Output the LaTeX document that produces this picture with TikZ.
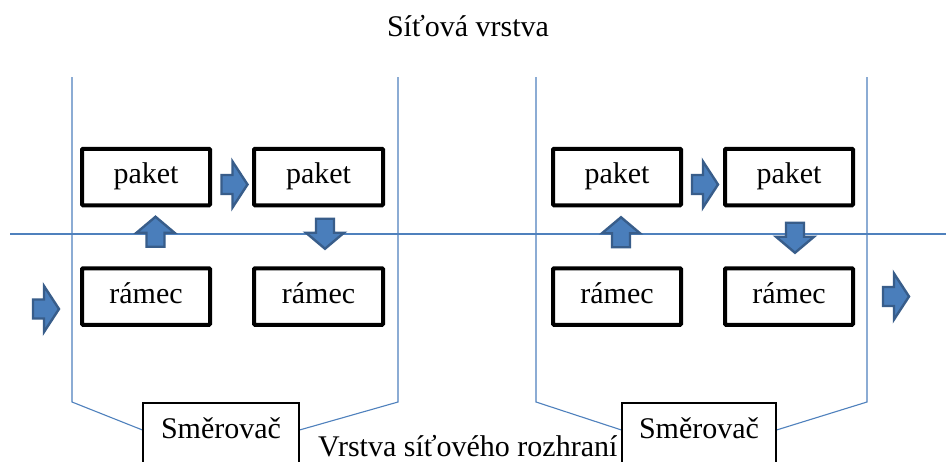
\documentclass[tikz,border=0pt]{standalone}
\usepackage{fontspec}
\setmainfont{Liberation Serif}
\usetikzlibrary{calc}
\definecolor{lineblue}{RGB}{79,129,189}
\definecolor{arrowfill}{RGB}{74,126,187}
\definecolor{arrowedge}{RGB}{56,93,138}
\pgfdeclarelayer{background}
\pgfsetlayers{background,main}
\tikzset{
  blk/.style={fill=arrowfill, draw=arrowedge, line width=2.4pt, line join=miter},
  frameline/.style={draw=lineblue, line width=1.1pt},
  layerbox/.style={draw=black, line width=4pt, rounded corners=1pt, fill=white,
    minimum width=128pt, minimum height=56.5pt, inner sep=0pt,
    text height=19.5pt, text depth=6pt, font=\fontsize{30}{35}\selectfont},
  routerbox/.style={draw=black, line width=1.1pt, fill=white,
    minimum width=156pt, minimum height=64pt, inner sep=0pt,
    text height=19.5pt, text depth=13pt, font=\fontsize{30}{35}\selectfont},
  textlabel/.style={inner sep=0pt, font=\fontsize{30}{35}\selectfont},
  harrow/.pic={\path[blk] (-13,-9.5) -- (-2,-9.5) -- (-2,-23) -- (13,0) -- (-2,23) -- (-2,9.5) -- (-13,9.5) -- cycle;},
  varrow/.pic={\path[blk] (-15,-9) -- (-1,-9) -- (-1,-19) -- (15,0) -- (-1,19) -- (-1,9) -- (-15,9) -- cycle;}
}
\begin{document}
\begin{tikzpicture}[x=1pt,y=-1pt]
\clip (0,0) rectangle (946,461);
\begin{pgfonlayer}{background}
\fill[white] (0,0) rectangle (946,461);
\end{pgfonlayer}

% titles
\node[textlabel, anchor=base] (title) at (468,36) {Síťová vrstva};
\node[textlabel, anchor=base west, text depth=0pt] (bottom) at (318,456) {Vrstva síťového rozhraní};

% boxes
\node[layerbox] (p1) at (146,177) {paket};
\node[layerbox, minimum width=129pt] (p2) at (318.5,177) {paket};
\node[layerbox] (r1) at (146,296.5) {rámec};
\node[layerbox, minimum width=129pt] (r2) at (318.5,296.5) {rámec};
\node[layerbox] (p3) at (617,177) {paket};
\node[layerbox] (p4) at (789,177) {paket};
\node[layerbox] (r3) at (617,296.5) {rámec};
\node[layerbox] (r4) at (789,296.5) {rámec};

% routers
\node[routerbox] (s1) at (221,435) {Směrovač};
\node[routerbox, minimum width=154pt] (s2) at (699,435) {Směrovač};

% frame coordinates
\coordinate (f1a) at (72,77);
\coordinate (f1b) at (72,402);
\coordinate (f1c) at (398,77);
\coordinate (f1d) at (398,402);
\coordinate (f2a) at (536,77);
\coordinate (f2b) at (536,402);
\coordinate (f2c) at (867,77);
\coordinate (f2d) at (867,402);
\coordinate (hl) at (10,234);
\coordinate (hr) at (946,234);

\begin{pgfonlayer}{background}
\draw[frameline] (f1a) -- (f1b) -- ($(s1.west)+(0,-5)$);
\draw[frameline] (f1c) -- (f1d) -- ($(s1.east)+(0,-5)$);
\draw[frameline] (f2a) -- (f2b) -- ($(s2.west)+(0,-5)$);
\draw[frameline] (f2c) -- (f2d) -- ($(s2.east)+(0,-5)$);
\draw[frameline] (hl) -- (hr);
\end{pgfonlayer}

% block arrows
\pic at ($(p1.east)!0.5!(p2.west)+(2.5,7.5)$) {harrow};
\pic at ($(p3.east)!0.5!(p4.west)+(2,7.5)$) {harrow};
\pic[rotate=90] at ($(r1.north)!0.5!(p1.south)+(9.5,-5)$) {varrow};
\pic[rotate=-90] at ($(p2.south)!0.5!(r2.north)+(6.5,-3)$) {varrow};
\pic[rotate=90] at ($(r3.north)!0.5!(p3.south)+(4,-4.5)$) {varrow};
\pic[rotate=-90] at ($(p4.south)!0.5!(r4.north)+(6,1)$) {varrow};
\pic at ($(r1.west)+(-34,12.5)$) {harrow};
\pic at ($(r4.east)+(41,0)$) {harrow};
\end{tikzpicture}
\end{document}
